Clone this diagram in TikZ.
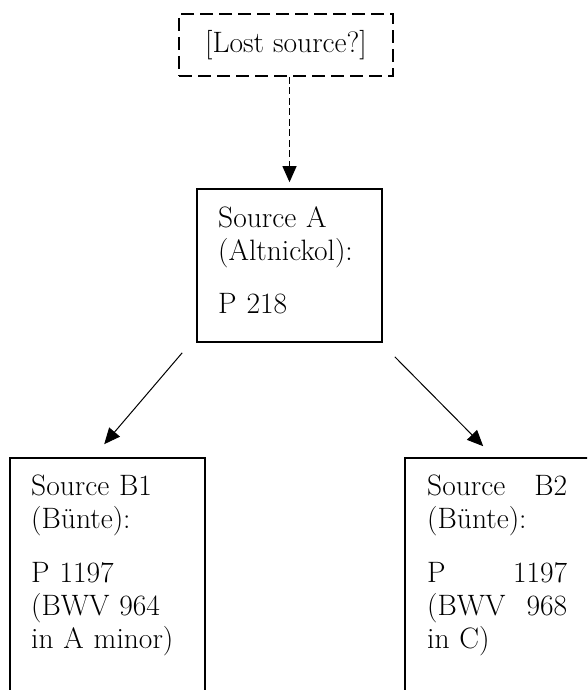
\documentclass[tikz,border=0pt]{standalone}
\usetikzlibrary{arrows.meta}
\begin{document}
\begin{tikzpicture}[x=1pt,y=-1pt,
  box/.style={draw, line width=1.6pt, rectangle, inner sep=0pt},
  lostbox/.style={draw, line width=1.6pt, dash pattern=on 13pt off 6pt,
    inner sep=0pt, minimum width=214pt, minimum height=62pt,
    font=\fontsize{29.5}{33}\selectfont},
  txt/.style={anchor=base west, align=left, inner sep=0pt,
    font=\fontsize{29.5}{33}\selectfont},
  arr/.style={line width=1pt, -{Triangle[length=16pt,width=14pt]}},
  dasharr/.style={arr, dash pattern=on 7pt off 3.5pt},
]
\useasboundingbox (0,0) rectangle (587,690);
\clip (0,0) rectangle (587,690);

% hypothetical lost source
\node[lostbox] (lost) at (286,45) {[Lost source?]};

% source A
\node[box, minimum width=185pt, minimum height=153pt] (A) at (289.5,265.5) {};
\node[txt, text width=160pt] (Atext) at (218,227)
  {Source A\\(Altnickol):\\[20pt]P 218};

% source B1 (box runs off the page)
\node[box, minimum width=195pt, minimum height=300pt] (B1) at (107.5,608) {};
\node[txt, text width=170pt] (B1text) at (31,495)
  {Source B1\\(Bünte):\\[21pt]P 1197\\(BWV 964\\in A minor)};

% source B2 (box runs off the page)
\node[box, minimum width=215pt, minimum height=300pt] (B2) at (512.5,608) {};
\node[txt, text width=140pt] (B2text) at (427,495)
  {Source\hfill B2\\(Bünte):\\[21pt]P\hfill 1197\\(BWV\hfill 968\\in C)};

% connectors
\draw[dasharr, shorten >=6pt] (A.north |- lost.south) -- (A.north);
\draw[arr] ([shift={(-14,10)}]A.south west) -- ([shift={(95,-13)}]B1.north west);
\draw[arr] ([shift={(12,14)}]A.south east) -- ([shift={(79,-11)}]B2.north west);
\end{tikzpicture}
\end{document}
